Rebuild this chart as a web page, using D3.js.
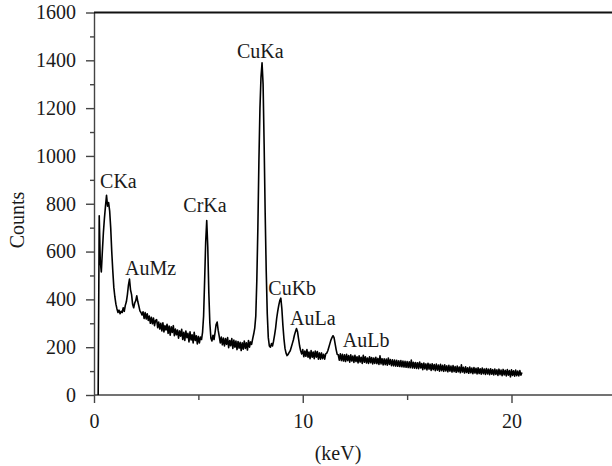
<!DOCTYPE html>
<meta charset="utf-8">
<style>

body {
  margin: 0;
  background: #fff;
}

svg {
  display: block;
  font-family: "Liberation Serif", "DejaVu Serif", serif;
}

.axis path, .axis line {
  fill: none;
  stroke: #444;
  stroke-width: 1.4;
}

.axis text, .label {
  fill: #1a1a1a;
  font-family: "Liberation Serif", "DejaVu Serif", serif;
  font-size: 20px;
}

.spectrum {
  fill: none;
  stroke: #000;
  stroke-width: 1.6;
  stroke-linejoin: round;
}

</style>
<body>
<script src="https://d3js.org/d3.v7.min.js"></script>
<script>

const width = 612, height = 466;

// energy of the first channel and channel width (keV)
const energyStart = 0.2, energyStep = 0.05;

// counts per channel, one row per keV
const counts = [].concat(
  [0, 750, 560, 515, 600, 680, 740, 790, 835, 790, 805, 770, 700, 600, 520, 450],
  [410, 380, 360, 345, 355, 340, 350, 345, 365, 350, 375, 390, 420, 460, 485, 440, 420, 380, 365, 385],
  [395, 415, 390, 372, 352, 345, 335, 348, 320, 345, 318, 340, 312, 330, 300, 325, 298, 322, 290, 312],
  [315, 282, 305, 276, 300, 268, 302, 264, 290, 272, 296, 258, 288, 250, 285, 262, 290, 248, 276, 252],
  [272, 238, 268, 246, 275, 232, 262, 228, 268, 240, 258, 222, 264, 230, 252, 218, 262, 228, 248, 214],
  [245, 218, 242, 232, 262, 330, 480, 640, 730, 620, 430, 300, 238, 226, 250, 232, 262, 295, 305, 270],
  [245, 218, 242, 210, 238, 205, 236, 212, 240, 198, 228, 206, 236, 195, 230, 200, 226, 190, 224, 196],
  [220, 186, 218, 192, 226, 195, 218, 188, 228, 200, 222, 212, 235, 255, 280, 330, 480, 700, 980, 1200],
  [1330, 1390, 1300, 1050, 760, 520, 340, 240, 205, 200, 215, 205, 225, 250, 280, 320, 350, 375, 395, 405],
  [360, 290, 235, 195, 175, 165, 170, 178, 185, 200, 215, 230, 250, 265, 278, 265, 235, 205, 185, 172],
  [190, 160, 184, 162, 190, 158, 180, 152, 186, 158, 180, 152, 184, 158, 182, 150, 176, 150, 176, 152],
  [170, 150, 172, 175, 185, 200, 215, 230, 240, 248, 240, 215, 190, 170, 168, 146, 172, 144, 170, 142],
  [168, 140, 170, 144, 165, 137, 168, 142, 163, 136, 166, 140, 160, 134, 164, 138, 158, 132, 166, 137],
  [160, 134, 155, 132, 160, 135, 157, 130, 155, 132, 158, 131, 153, 128, 164, 130, 152, 126, 151, 127],
  [150, 125, 155, 128, 148, 123, 147, 122, 146, 121, 145, 120, 143, 119, 144, 118, 142, 117, 141, 116],
  [140, 115, 139, 114, 146, 113, 137, 112, 136, 111, 135, 110, 138, 113, 132, 106, 134, 109, 130, 105],
  [133, 108, 129, 103, 131, 106, 127, 102, 129, 104, 125, 100, 128, 102, 124, 99, 126, 101, 122, 97],
  [124, 100, 121, 96, 123, 98, 119, 95, 121, 97, 117, 93, 126, 96, 116, 92, 118, 94, 114, 91],
  [117, 93, 113, 89, 115, 92, 112, 88, 114, 90, 110, 87, 113, 89, 109, 86, 111, 88, 108, 85],
  [110, 87, 106, 84, 109, 86, 105, 82, 108, 85, 104, 81, 107, 84, 103, 80, 106, 83, 102, 76],
  [105, 82, 101, 79, 104, 81, 100, 80, 102, 83, 94]
);

// peak annotations: name, energy (keV) and count level of the text baseline
const peakNames  = ["CKa", "AuMz", "CrKa", "CuKa", "CuKb", "AuLa", "AuLb"];
const peakEnergy = [0.29, 1.49, 4.28, 6.85, 8.35, 9.39, 11.92];
const peakLevel  = [865, 501, 766, 1408, 418, 292, 202];

const xTicks = [0, 10, 20];
const xMinorTicks = [5, 15, 25];
const yTicks = [0, 200, 400, 600, 800, 1000, 1200, 1400, 1600];
const yMinorTicks = [100, 300, 500, 700, 900, 1100, 1300, 1500];

const x = d3.scaleLinear()
    .domain([0, 25])
    .range([94, 94 + 25 * 20.875]);

const y = d3.scaleLinear()
    .domain([0, 1600])
    .range([395, 12.5]);

const svg = d3.select("body").append("svg")
    .attr("width", width)
    .attr("height", height);

// drop the sans-serif defaults the axis puts on its group
const serif = g => g.attr("font-family", null).attr("font-size", null);

// minor ticks first, so the axes sit on top
svg.append("g")
    .attr("class", "axis")
    .attr("transform", `translate(0,${y(0)})`)
    .call(d3.axisBottom(x).tickValues(xMinorTicks).tickSize(5).tickFormat(""))
    .call(g => g.select(".domain").remove());

svg.append("g")
    .attr("class", "axis")
    .attr("transform", `translate(${x(0)},0)`)
    .call(d3.axisLeft(y).tickValues(yMinorTicks).tickSize(4).tickFormat(""))
    .call(g => g.select(".domain").remove());

svg.append("g")
    .attr("class", "axis")
    .attr("transform", `translate(0,${y(0)})`)
    .call(d3.axisBottom(x).tickValues(xTicks).tickSize(8).tickSizeOuter(0).tickPadding(11).tickFormat(d3.format("d")))
    .call(g => g.select(".domain").attr("d", `M${x(0)},0H${width}`))
    .call(serif);

svg.append("g")
    .attr("class", "axis")
    .attr("transform", `translate(${x(0)},0)`)
    .call(d3.axisLeft(y).tickValues(yTicks).tickSize(8).tickSizeOuter(0).tickPadding(10).tickFormat(d3.format("d")))
    .call(serif);

// frame top
svg.append("line")
    .attr("x1", x(0))
    .attr("x2", width)
    .attr("y1", y(1600))
    .attr("y2", y(1600))
    .attr("stroke", "#111")
    .attr("stroke-width", 1.8);

const line = d3.line()
    .x((d, i) => x(energyStart + i * energyStep))
    .y(d => y(d));

svg.append("path")
    .datum(counts)
    .attr("class", "spectrum")
    .attr("d", line);

svg.append("g")
  .selectAll("text")
  .data(peakNames)
  .join("text")
    .attr("class", "label")
    .attr("x", (d, i) => x(peakEnergy[i]))
    .attr("y", (d, i) => y(peakLevel[i]))
    .text(d => d);

svg.append("text")
    .attr("class", "label")
    .attr("text-anchor", "middle")
    .attr("x", 338)
    .attr("y", 460)
    .text("(keV)");

svg.append("text")
    .attr("class", "label")
    .attr("text-anchor", "middle")
    .attr("transform", "translate(24,220) rotate(-90)")
    .text("Counts");

</script>
